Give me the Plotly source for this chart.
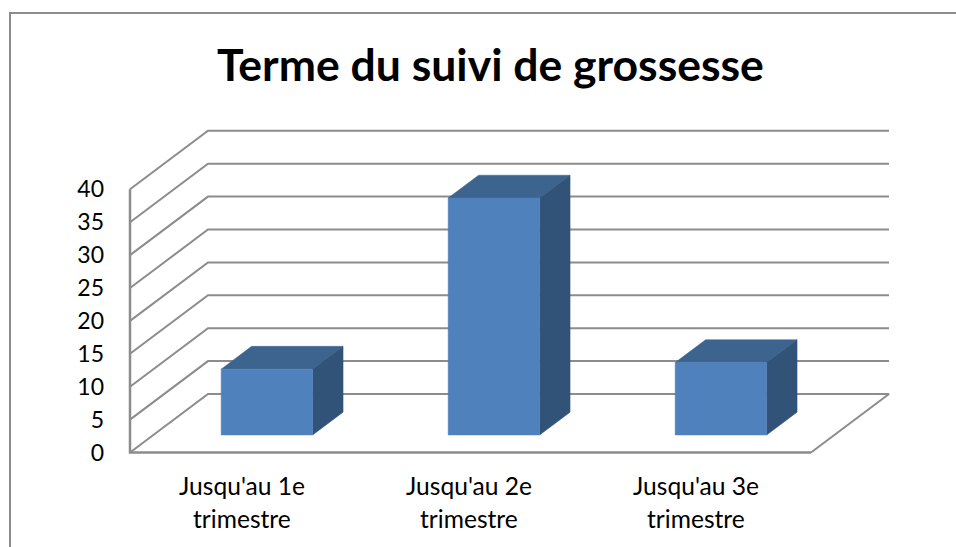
import plotly.graph_objects as go

title = "Terme du suivi de grossesse"
line_one = ["Jusqu'au 1e", "Jusqu'au 2e", "Jusqu'au 3e"]
line_two = ["trimestre", "trimestre", "trimestre"]
values = [10, 36, 11]
y_ticks = [0, 5, 10, 15, 20, 25, 30, 35, 40]

W, H = 956, 547
# pixel scale of the fake 3d box
CAT_PX = 227.0
VAL_PX = 6.58
X0_PX = 130.0
Y0_PX = 452.5
DEPTH_X = 78.0 / CAT_PX
DEPTH_Y = 58.5 / VAL_PX
BAR_W = 0.403
GRID = "#8c8c8c"
FONT = "Lato, Carlito, sans-serif"


def proj(cat, val, depth=0.0):
    return cat + DEPTH_X * depth, val + DEPTH_Y * depth


def poly(points, color):
    xs = [p[0] for p in points] + [points[0][0]]
    ys = [p[1] for p in points] + [points[0][1]]
    return go.Scatter(x=xs, y=ys, mode="lines", fill="toself", fillcolor=color,
                      line=dict(color=color, width=0.5), hoverinfo="skip", showlegend=False)


def line(points, width=2):
    return go.Scatter(x=[p[0] for p in points], y=[p[1] for p in points], mode="lines",
                      line=dict(color=GRID, width=width), hoverinfo="skip", showlegend=False)


fig = go.Figure()

left, right = -0.5, 2.5
for v in y_ticks[1:]:
    fig.add_trace(line([proj(left, v), proj(left, v, 1), proj(right, v, 1)]))
fig.add_trace(line([proj(left, 0), proj(left, 0, 1), proj(right, 0, 1), proj(right, 0)]))
fig.add_trace(line([proj(left, y_ticks[-1]), proj(left, 0), proj(right, 0)], width=2.5))

for i, v in enumerate(values):
    a, b = i - BAR_W / 2, i + BAR_W / 2
    d1, d2 = 0.30, 0.69
    fig.add_trace(poly([proj(a, v, d1), proj(b, v, d1), proj(b, v, d2), proj(a, v, d2)], "#3c648f"))
    fig.add_trace(poly([proj(b, 0, d1), proj(b, 0, d2), proj(b, v, d2), proj(b, v, d1)], "#325378"))
    fig.add_trace(poly([proj(a, 0, d1), proj(b, 0, d1), proj(b, v, d1), proj(a, v, d1)], "#4f81bd"))

annotations = [dict(text="<b>%s</b>" % title, x=490 / W, y=1 - 63 / H, xref="paper", yref="paper",
                    yanchor="middle", showarrow=False,
                    font=dict(family=FONT, size=44.5, color="black"))]
for i in range(len(values)):
    annotations.append(dict(text=line_one[i], x=i - 0.005, y=1 - 485.5 / H, xref="x", yref="paper",
                            yanchor="middle", showarrow=False,
                            font=dict(family=FONT, size=24.6, color="black")))
    annotations.append(dict(text=line_two[i], x=i - 0.005, y=1 - 518.5 / H, xref="x", yref="paper",
                            yanchor="middle", showarrow=False,
                            font=dict(family=FONT, size=24.6, color="black")))

fig.update_layout(
    width=W, height=H, margin=dict(l=0, r=0, t=0, b=0),
    paper_bgcolor="white", plot_bgcolor="white", showlegend=False,
    annotations=annotations,
    xaxis=dict(range=[left - X0_PX / CAT_PX, left + (W - X0_PX) / CAT_PX], showgrid=False,
               zeroline=False, showticklabels=False, fixedrange=True),
    yaxis=dict(range=[(Y0_PX - H) / VAL_PX, Y0_PX / VAL_PX], showgrid=False, zeroline=False,
               tickvals=y_ticks, ticks="", anchor="free", position=X0_PX / W, side="left",
               ticklabelstandoff=26, tickfont=dict(family=FONT, size=23, color="black"),
               fixedrange=True),
    shapes=[dict(type="path", xref="paper", yref="paper",
                 path="M %f 0 L %f %f L 1 %f" % (10 / W, 10 / W, 1 - 13 / H, 1 - 13 / H),
                 line=dict(color="#8c8c8c", width=2))],
)

fig.write_html("out.html", config=dict(displayModeBar=False),
               post_script="document.body.style.margin='0';")
